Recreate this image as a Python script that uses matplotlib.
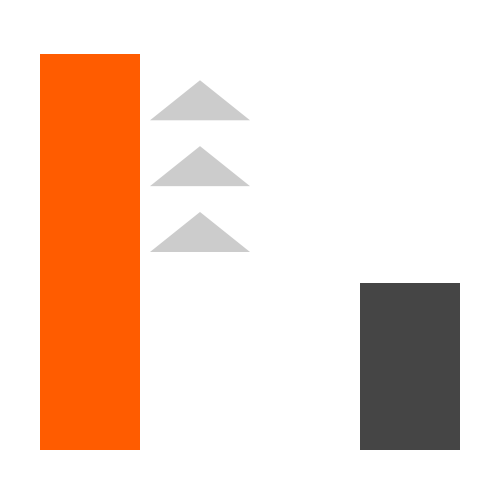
import matplotlib
matplotlib.use('Agg')
import matplotlib.pyplot as plt
import numpy as np

# before / after values and the up-arrow stack between them
labels = ['before', 'after']
values = [95, 40]
positions = [0, 3.2]
n_arrows = 3

bar_colors = ['#FF5C00', '#454545']
arrow_color = '#CCCCCC'

fig = plt.figure(figsize=(5, 5), dpi=100)
ax = fig.add_axes([0.08, 0.10, 0.84, 0.792])

ax.bar(positions, values, width=1.0, color=bar_colors, align='center')

# chevrons pointing up, stacked above the smaller bar
arrow_x = 1.1
arrow_h = 9.6
arrow_step = 15.8
arrow_base0 = 47.5
for i in range(n_arrows):
    base = arrow_base0 + i * arrow_step
    xs = [arrow_x - 0.5, arrow_x, arrow_x + 0.5]
    ys = [base, base + arrow_h, base]
    ax.fill(xs, ys, color=arrow_color, lw=0)

ax.set_xlim(-0.5, 3.7)
ax.set_ylim(0, 95)
ax.axis('off')

fig.savefig('out.png', dpi=100)
